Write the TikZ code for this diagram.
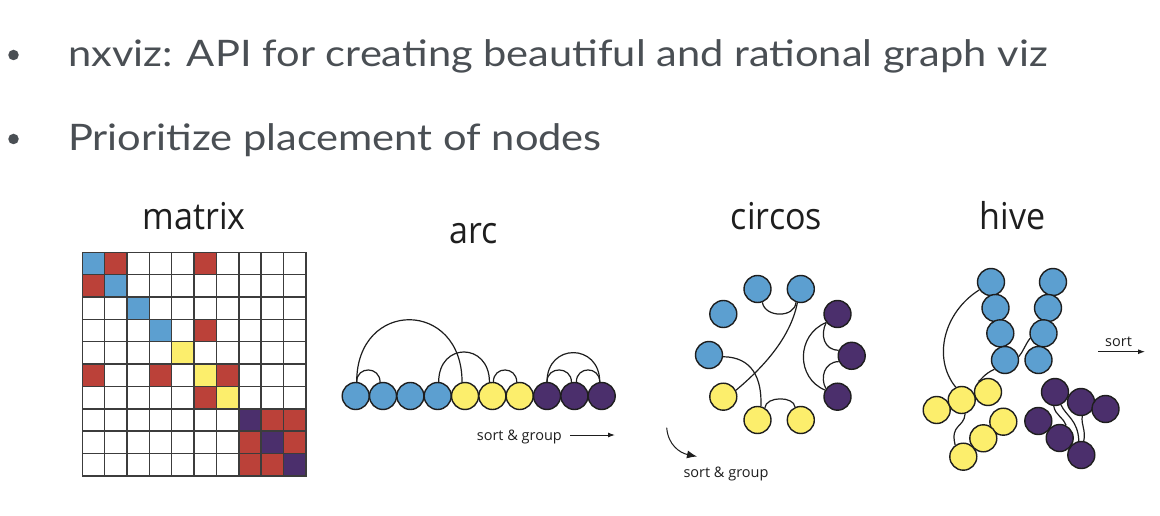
\documentclass[tikz,border=0pt]{standalone}
\usepackage{fontspec}
\setmainfont{Lato}[FakeStretch=1.14]
\newfontfamily\labelfont{Open Sans}
\newfontfamily\titlefont{Open Sans}[FakeStretch=0.92]
\usetikzlibrary{arrows.meta}
\definecolor{slate}{HTML}{4A4F54}
\definecolor{nxblue}{HTML}{5C9FD0}
\definecolor{nxyellow}{HTML}{FCEE6C}
\definecolor{nxpurple}{HTML}{4B2F6C}
\definecolor{nxred}{HTML}{BB4139}
\definecolor{ink}{HTML}{1E1E1E}
\definecolor{gridgray}{HTML}{3C3C3C}
\pgfdeclarelayer{paper}
\pgfdeclarelayer{edges}
\pgfsetlayers{paper,edges,main}
\tikzset{
  bulletdot/.style={circle, fill=slate, minimum size=10.5pt, inner sep=0},
  bullettext/.style={anchor=base west, inner sep=0, text=slate, font=\fontsize{36.5}{42}\selectfont},
  title/.style={anchor=base, inner sep=0, text=ink, font=\titlefont\fontsize{37}{42}\selectfont},
  smalllabel/.style={anchor=base west, inner sep=0, text=ink, font=\labelfont\fontsize{14.5}{17}\selectfont},
  gridcell/.style={draw=gridgray, line width=1.5pt},
  vtx/.style={circle, draw=ink, line width=1.4pt, minimum size=27pt, inner sep=0},
  vb/.style={vtx, fill=nxblue},
  vy/.style={vtx, fill=nxyellow},
  vp/.style={vtx, fill=nxpurple},
  edge/.style={draw=ink, line width=1.2pt},
  sortarrow/.style={draw=ink, line width=1pt, -{Latex[length=7pt,width=5pt]}},
}
\begin{document}
\begin{tikzpicture}[x=1pt,y=-1pt]
\begin{pgfonlayer}{paper}
\fill[white] (0,0) rectangle (1160,516);
\end{pgfonlayer}
\useasboundingbox (0,0) rectangle (1160,516);

% bullet list
\node[bulletdot] (d1) at (13.5,55) {};
\node[bullettext] (l1) at (68,66.7) {nxviz: API for creating beautiful and rational graph viz};
\node[bulletdot] (d2) at (13.5,139) {};
\node[bullettext] (l2) at (68,150.5) {Prioritize placement of nodes};

% panel titles
\node[title] (tmatrix) at (194,229.3) {matrix};
\node[title] (tarc) at (474,243) {arc};
\node[title] (tcircos) at (776.5,229.3) {circos};
\node[title] (thive) at (1012.5,229.3) {hive};

% ---------- matrix ----------
\def\cs{22.35}
\foreach \r in {0,...,9}
  \foreach \c in {0,...,9}
    \draw[gridcell, fill=white] ({82.3+\c*\cs},{252.3+\r*\cs}) rectangle +(\cs,\cs);
\foreach \r/\c/\col in {0/0/nxblue, 0/1/nxred, 0/5/nxred,
                        1/0/nxred, 1/1/nxblue,
                        2/2/nxblue,
                        3/3/nxblue, 3/5/nxred,
                        4/4/nxyellow,
                        5/0/nxred, 5/3/nxred, 5/5/nxyellow, 5/6/nxred,
                        6/5/nxred, 6/6/nxyellow,
                        7/7/nxpurple, 7/8/nxred, 7/9/nxred,
                        8/7/nxred, 8/8/nxpurple, 8/9/nxred,
                        9/7/nxred, 9/8/nxred, 9/9/nxpurple}
  \draw[gridcell, fill=\col] ({82.3+\c*\cs},{252.3+\r*\cs}) rectangle +(\cs,\cs);

% ---------- arc ----------
\node[vb] (a0) at (355.7,396) {};
\node[vb] (a1) at (383.0,396) {};
\node[vb] (a2) at (410.4,396) {};
\node[vb] (a3) at (437.7,396) {};
\node[vy] (a4) at (465.0,396) {};
\node[vy] (a5) at (492.4,396) {};
\node[vy] (a6) at (519.7,396) {};
\node[vp] (a7) at (547.0,396) {};
\node[vp] (a8) at (574.4,396) {};
\node[vp] (a9) at (601.7,396) {};
\begin{pgfonlayer}{edges}
\draw[edge] (a0.86) .. controls +(0,-16) and +(0,-16) .. (a1.102);
\draw[edge] (a0.86) .. controls +(0,-83) and +(0,-83) .. (a4.102);
\draw[edge] (a3.86) .. controls +(0,-40) and +(0,-40) .. (a5.102);
\draw[edge] (a5.86) .. controls +(0,-16) and +(0,-16) .. (a6.102);
\draw[edge] (a7.90) .. controls +(0,-16) and +(0,-16) .. (a8.102);
\draw[edge] (a8.82) .. controls +(0,-16) and +(0,-16) .. (a9.98);
\draw[edge] (a7.90) .. controls +(0,-39) and +(0,-39) .. (a9.98);
\end{pgfonlayer}
\node[smalllabel] (arclabel) at (476.7,440) {sort \& group};
\coordinate (arcs0) at (570,435);
\coordinate (arcs1) at (615,435);
\draw[sortarrow] (arcs0) -- (arcs1);

% ---------- circos ----------
\node[vb] (cb1) at (757.5,289) {};
\node[vb] (cb2) at (800.8,289) {};
\node[vb] (cb3) at (723.3,314) {};
\node[vb] (cb4) at (709,355) {};
\node[vy] (cy1) at (723.3,396.7) {};
\node[vy] (cy2) at (757.5,420) {};
\node[vy] (cy3) at (800.8,420) {};
\node[vp] (cp1) at (837.5,314) {};
\node[vp] (cp2) at (851.7,355.8) {};
\node[vp] (cp3) at (837.5,396.7) {};
\begin{pgfonlayer}{edges}
\draw[edge] (cb1.-70) .. controls (765,318) and (795,318) .. (cb2.-110);
\draw[edge] (cb2.-104) .. controls (790,340) and (760,370) .. (cy1.27);
\draw[edge] (cb4.-7) .. controls (752,357) and (762,378) .. (cy2.76);
\draw[edge] (cy2.59) .. controls (766,396) and (794,396) .. (cy3.114);
\draw[edge] (cp1.-143) .. controls (796,335) and (796,378) .. (cp3.152);
\draw[edge] (cp1.-143) .. controls (820,335) and (824,350) .. (cp2.157);
\draw[edge] (cp2.-156) .. controls (824,362) and (820,378) .. (cp3.145);
\end{pgfonlayer}
\coordinate (cs0) at (666.7,427.7);
\coordinate (cs1) at (697,456.5);
\draw[sortarrow, -{Latex[length=10pt,width=8pt]}] (cs0) .. controls (668,445) and (680,453) .. (cs1);
\node[smalllabel] (circlabel) at (683.3,477.5) {sort \& group};

% ---------- hive ----------
\node[vb] (hl1) at (991,282) {};
\node[vb] (hl2) at (995.5,308) {};
\node[vb] (hl3) at (1000.3,333.3) {};
\node[vb] (hl4) at (1005,360) {};
\node[vb] (hr1) at (1053,282) {};
\node[vb] (hr2) at (1048,308) {};
\node[vb] (hr3) at (1043.5,333.3) {};
\node[vb] (hr4) at (1038.5,360) {};
\node[vy] (hy3) at (936.7,410) {};
\node[vy] (hy2) at (961.7,400) {};
\node[vy] (hy1) at (988,392) {};
\node[vy] (hy4) at (1003.3,421.7) {};
\node[vy] (hy5) at (983.3,438.3) {};
\node[vy] (hy6) at (963.3,456.7) {};
\node[vp] (hp1) at (1055,392) {};
\node[vp] (hp2) at (1081,402) {};
\node[vp] (hp3) at (1105.5,409) {};
\node[vp] (hp4) at (1038.3,421) {};
\node[vp] (hp5) at (1059.7,438) {};
\node[vp] (hp6) at (1081.3,455) {};
\begin{pgfonlayer}{edges}
\draw[edge] (hl1.214) .. controls (944,312) and (932,358) .. (hy2.115);
\draw[edge] (hl4.-139) .. controls (984,374) and (981,380) .. (hy1.132);
\draw[edge] (hr3.-160) .. controls (1025,345) and (1023,352) .. (hl4.14);
\draw[edge] (hy2.-76) .. controls (964,428) and (950,424) .. (hy6.125);
\draw[edge] (hp1.-95) .. controls (1055,415) and (1064,418) .. (hp5.63);
\draw[edge] (hp1.-65) .. controls (1066,416) and (1078,420) .. (hp6.100);
\draw[edge] (hp2.-85) .. controls (1081,425) and (1086,430) .. (hp6.80);
\end{pgfonlayer}
\node[smalllabel] (hivelabel) at (1105,346) {sort};
\coordinate (hs0) at (1098.3,351.7);
\coordinate (hs1) at (1145,351.7);
\draw[sortarrow] (hs0) -- (hs1);
\end{tikzpicture}
\end{document}
